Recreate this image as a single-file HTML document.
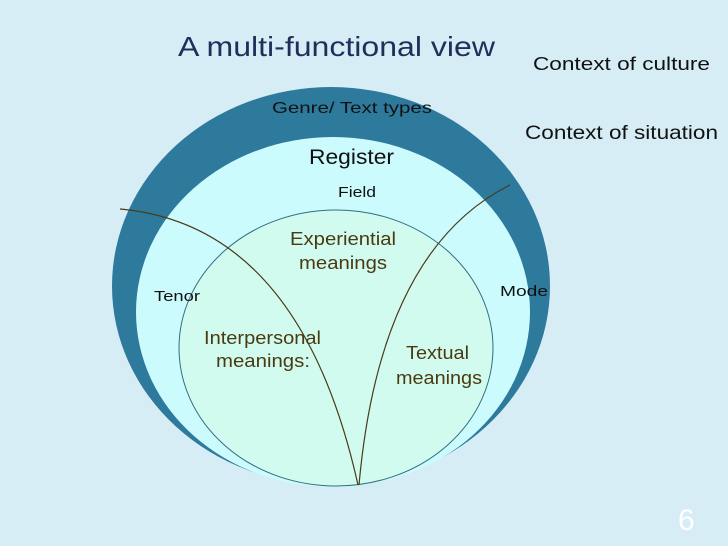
<!DOCTYPE html>
<html><head><style>
body{margin:0;width:728px;height:546px;background:#d7edf5;overflow:hidden}
</style></head><body>
<svg width="728" height="546" xmlns="http://www.w3.org/2000/svg" style="position:absolute;left:0;top:0">
<rect width="728" height="546" fill="#d7edf5"/>
<ellipse cx="331" cy="286" rx="219" ry="199" fill="#2d7a9c"/>
<ellipse cx="333" cy="312" rx="197" ry="175" fill="#ccfbfd"/>
<ellipse cx="336" cy="348" rx="157" ry="138" fill="#d2fbf0" stroke="#2f6f80" stroke-width="1"/>
<path d="M120 209 Q300 225 358 485" fill="none" stroke="#4a3a1a" stroke-width="1.2"/>
<path d="M510 185 Q380 250 359 485" fill="none" stroke="#4a3a1a" stroke-width="1.2"/>
<g font-family="Liberation Sans, sans-serif" lengthAdjust="spacingAndGlyphs">
<text x="178" y="56" font-size="28" fill="#1f2f5a" textLength="317" lengthAdjust="spacingAndGlyphs">A multi-functional view</text>
<text x="533" y="70" font-size="18" fill="#111" textLength="177" lengthAdjust="spacingAndGlyphs">Context of culture</text>
<text x="525" y="139" font-size="19" fill="#111" textLength="193" lengthAdjust="spacingAndGlyphs">Context of situation</text>
<text x="272" y="113" font-size="16" fill="#111" textLength="160" lengthAdjust="spacingAndGlyphs">Genre/ Text types</text>
<text x="309" y="164" font-size="21" fill="#111" textLength="85" lengthAdjust="spacingAndGlyphs">Register</text>
<text x="338" y="197" font-size="15" fill="#111" textLength="38" lengthAdjust="spacingAndGlyphs">Field</text>
<text x="154" y="301" font-size="15" fill="#111" textLength="46" lengthAdjust="spacingAndGlyphs">Tenor</text>
<text x="500" y="296" font-size="15" fill="#111" textLength="48" lengthAdjust="spacingAndGlyphs">Mode</text>
<text x="290" y="245" font-size="18" fill="#4a3a10" textLength="106" lengthAdjust="spacingAndGlyphs">Experiential</text>
<text x="299" y="269" font-size="18" fill="#4a3a10" textLength="88" lengthAdjust="spacingAndGlyphs">meanings</text>
<text x="204" y="344" font-size="18" fill="#4a3a10" textLength="117" lengthAdjust="spacingAndGlyphs">Interpersonal</text>
<text x="216" y="367" font-size="18" fill="#4a3a10" textLength="94" lengthAdjust="spacingAndGlyphs">meanings:</text>
<text x="406" y="359" font-size="18" fill="#4a3a10" textLength="63" lengthAdjust="spacingAndGlyphs">Textual</text>
<text x="396" y="384" font-size="18" fill="#4a3a10" textLength="86" lengthAdjust="spacingAndGlyphs">meanings</text>
<text x="678" y="530" font-size="30" fill="#ffffff">6</text>
</g>
</svg>
</body></html>
